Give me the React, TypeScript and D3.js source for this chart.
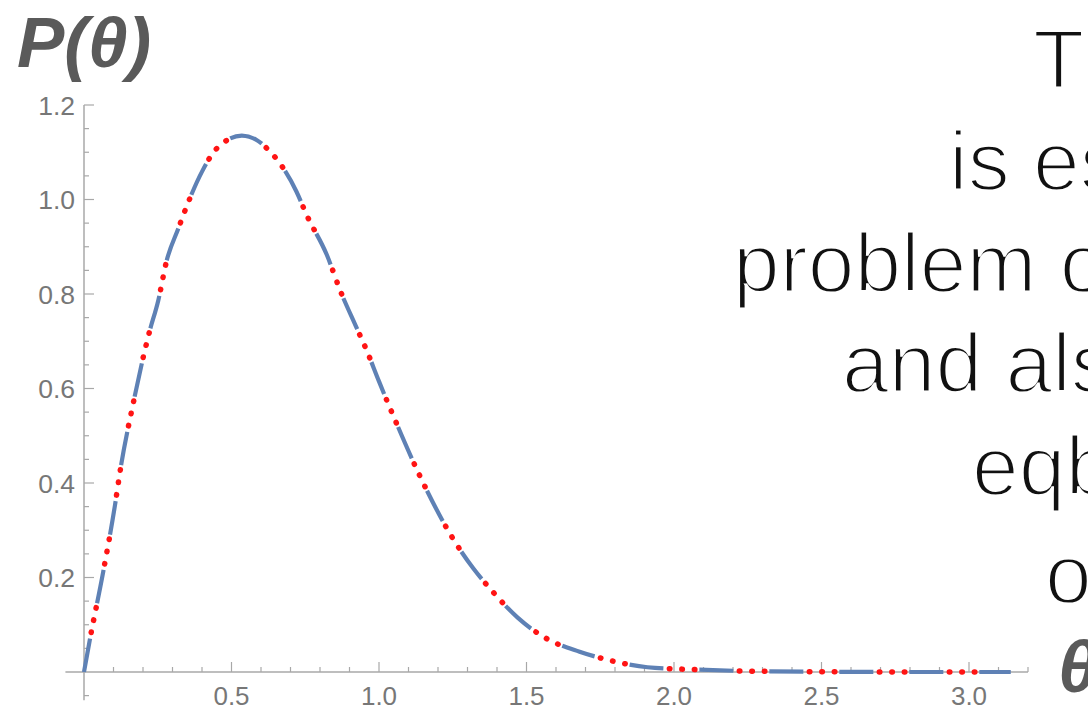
import React from "react";
import * as d3 from "d3";

// values
const theta = [0, 0.02, 0.063, 0.105, 0.124, 0.167, 0.221, 0.252, 0.28, 0.32, 0.354, 0.4, 0.45, 0.535, 0.585, 0.625, 0.66, 0.72, 0.755, 0.823, 0.87, 0.92, 0.958, 1.0, 1.05, 1.14, 1.25, 1.32, 1.38, 1.47, 1.57, 1.68, 1.8, 1.91, 2.08, 2.25, 2.5, 2.8, 3.1416];
const prob = [0, 0.069, 0.205, 0.353, 0.431, 0.569, 0.718, 0.787, 0.87, 0.939, 0.995, 1.059, 1.108, 1.135, 1.126, 1.105, 1.08, 1.017, 0.967, 0.883, 0.805, 0.734, 0.681, 0.615, 0.54, 0.413, 0.283, 0.219, 0.174, 0.115, 0.07, 0.043, 0.022, 0.01, 0.005, 0.002, 0.0005, 0, 0];

const xMajor = [0.5, 1.0, 1.5, 2.0, 2.5, 3.0];
const yMajor = [0.2, 0.4, 0.6, 0.8, 1.0, 1.2];

// slide text partly cut off at the right edge
const slideLines = ["Th", "is es", "problem o", "and als", "eqb", "o"];
const slideX = [1033, 949, 733, 842, 972, 1045];
const slideY = [88, 190, 292, 392, 495, 603];

const W = 1088;
const H = 710;

export default function App() {
  const x = d3.scaleLinear().domain([0, 3]).range([84, 969]);
  const y = d3.scaleLinear().domain([0, 1.2]).range([672, 105]);

  const pts = theta.map((t, i) => [t, prob[i]] as [number, number]);
  const line = d3
    .line<[number, number]>()
    .x((d) => x(d[0]))
    .y((d) => y(d[1]))
    .curve(d3.curveMonotoneX);
  const path = line(pts) || "";

  const xMinor = d3.range(1, 33).map((i) => i / 10).filter((v) => !xMajor.some((m) => Math.abs(m - v) < 1e-6));
  const yMinor = d3.range(-1, 25).map((i) => i / 20).filter((v) => v !== 0 && !yMajor.some((m) => Math.abs(m - v) < 1e-6));

  const axisColor = "#a8a8a8";
  const labelColor = "#777";
  const fmt = d3.format(".1f");
  const sans = "Liberation Sans, Arial, sans-serif";

  return (
    <svg width={W} height={H} style={{ position: "absolute", left: 0, top: 0, background: "#fff" }}>
      {/* axes */}
      <line x1={x(-0.063)} x2={x(3.2)} y1={y(0)} y2={y(0)} stroke={axisColor} strokeWidth={1.5} />
      <line x1={x(0)} x2={x(0)} y1={y(-0.06)} y2={y(1.2)} stroke={axisColor} strokeWidth={1.5} />
      {xMinor.map((v) => (
        <line key={"xm" + v} x1={x(v)} x2={x(v)} y1={y(0)} y2={y(0) - 5} stroke={axisColor} strokeWidth={1.2} />
      ))}
      {xMajor.map((v) => (
        <g key={"xM" + v}>
          <line x1={x(v)} x2={x(v)} y1={y(0)} y2={y(0) - 10} stroke={axisColor} strokeWidth={1.2} />
          <text x={x(v)} y={y(0) + 33} textAnchor="middle" fontFamily={sans} fontSize={26} fill={labelColor}>
            {fmt(v)}
          </text>
        </g>
      ))}
      {yMinor.map((v) => (
        <line key={"ym" + v} x1={x(0)} x2={x(0) + 5} y1={y(v)} y2={y(v)} stroke={axisColor} strokeWidth={1.2} />
      ))}
      {yMajor.map((v) => (
        <g key={"yM" + v}>
          <line x1={x(0)} x2={x(0) + 10} y1={y(v)} y2={y(v)} stroke={axisColor} strokeWidth={1.2} />
          <text x={x(0) - 9} y={y(v) + 9.5} textAnchor="end" fontFamily={sans} fontSize={26.5} fill={labelColor}>
            {fmt(v)}
          </text>
        </g>
      ))}

      {/* curves: blue dashes, red dots in the gaps */}
      <path d={path} fill="none" stroke="#5e81b5" strokeWidth={4.2} strokeDasharray="34 36" />
      <path
        d={path}
        fill="none"
        stroke="#ff1414"
        strokeWidth={5.5}
        strokeLinecap="round"
        strokeDasharray="0.5 12 0.5 12 0.5 44.5"
        strokeDashoffset={30}
      />

      {/* axis labels */}
      <text x={17} y={67} fontFamily={sans} fontWeight="bold" fontStyle="italic" fontSize={71} fill="#5a5a5a">
        P(θ)
      </text>
      <text x={1058} y={692} fontFamily={sans} fontWeight="bold" fontStyle="italic" fontSize={72} fill="#5a5a5a">
        θ
      </text>

      {/* slide text, thinned with a white outline */}
      {slideLines.map((s, i) => (
        <text key={s} x={slideX[i]} y={slideY[i]} fontFamily={sans} fontSize={84} fill="#111" stroke="#fff" strokeWidth={2.8}>
          {s}
        </text>
      ))}
    </svg>
  );
}
